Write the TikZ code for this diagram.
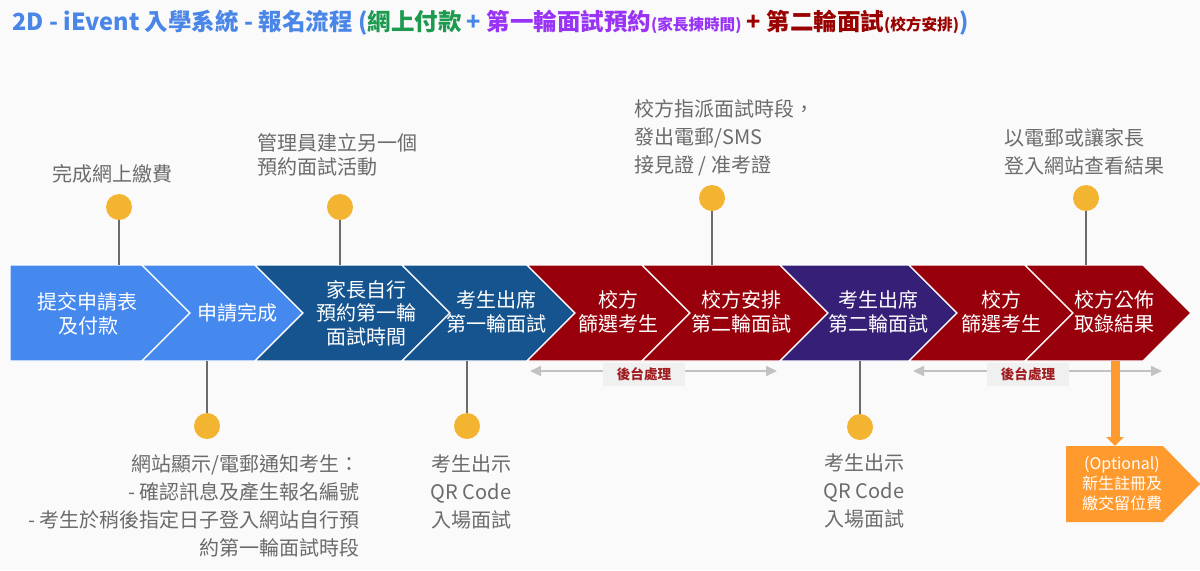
\documentclass[tikz,border=0pt]{standalone}
\usepackage{fontspec}
\setmainfont{Noto Sans CJK TC}
\usepackage{tikz}
\usetikzlibrary{arrows.meta,calc,positioning}
%Colours taken from the flow chart
\definecolor{bggray}{HTML}{FAFAFA}
\definecolor{steplight}{HTML}{4589EF}
\definecolor{stepdark}{HTML}{15548F}
\definecolor{stepred}{HTML}{98000B}
\definecolor{steppurple}{HTML}{361F77}
\definecolor{notegray}{HTML}{6B6B6B}
\definecolor{dotyellow}{HTML}{F3B431}
\definecolor{backgray}{HTML}{C2C2C2}
\definecolor{labelgray}{HTML}{F0F0F0}
\definecolor{labelred}{HTML}{A01E22}
\definecolor{optorange}{HTML}{FF9A2E}
\definecolor{titleblue}{HTML}{4A86E8}
\definecolor{titlegreen}{HTML}{1E9A50}
\definecolor{titlepurple}{HTML}{9933F5}
\definecolor{titlered}{HTML}{990000}
\newcommand\titlesmall{\fontsize{7.8}{9}\selectfont}
\tikzset{
%Define standard arrow tip
>={Triangle[length=5.5pt,width=5pt]},
%Define style for the chevrons and their texts
stepshape/.style={draw=white, line width=0.6pt},
steptext/.style={text=white, align=center, inner sep=0pt, font=\fontsize{10}{12}\selectfont},
%Define style for the notes above and below the chevrons
note/.style={text=notegray, inner sep=0pt, font=\fontsize{10}{14}\selectfont},
yellow dot/.style={circle, fill=dotyellow, minimum size=13pt, inner sep=0pt},
stem/.style={draw=notegray, line width=0.7pt},
%Back office arrows
back line/.style={<->, draw=backgray, line width=1pt},
back label/.style={fill=labelgray, text=labelred, minimum width=41pt, minimum height=11.5pt, inner sep=0pt, font=\bfseries\fontsize{6.8}{8}\selectfont},
opt arrow/.style={draw=optorange, line width=4.5pt, -{Triangle[length=4.5pt,width=8.5pt]}},
}

\begin{document}
\begin{tikzpicture}[x=0.5pt,y=-0.5pt]
    \useasboundingbox (0,0) rectangle (1200,570);
    \fill[bggray] (0,0) rectangle (1200,570);
    %Title
    \node[anchor=west, inner sep=0pt, font=\bfseries\fontsize{11.75}{14}\selectfont] (title) at (12,22.5)
    {\textcolor{titleblue}{2D - iEvent 入學系統 - 報名流程 (}\textcolor{titlegreen}{網上付款}\textcolor{titleblue}{\ + }\textcolor{titlepurple}{第一輪面試預約{\titlesmall(家長揀時間)}}\textcolor{titlered}{\ + 第二輪面試{\titlesmall(校方安排)}}\textcolor{titleblue}{)}};

    %Where the stems meet the chevrons
    %% top edge is at 265, bottom edge at 361
    \coordinate (s1) at (119,265);
    \coordinate (s2) at (207,361);
    \coordinate (s3) at (340,265);
    \coordinate (s4) at (467,361);
    \coordinate (s5) at (712,265);
    \coordinate (s6) at (860,361);
    \coordinate (s7) at (1086,265);
    \coordinate (s8) at (1115,361);

    %Back office arrows, under everything else
    \coordinate (b1s) at (530,371);
    \coordinate (b1e) at (777,371);
    \coordinate (b2s) at (913,371);
    \coordinate (b2e) at (1162,371);
    \draw[back line] (b1s) -- (b1e);
    \draw[back line] (b2s) -- (b2e);
    \node[back label] (back1) at (644,374) {後台處理};
    \node[back label] (back2) at (1028,374) {後台處理};

    %%%%%%%%%%%%%%%%%%%%%%
    %The chevrons
    %%%%%%%%%%%%%%%%%%%%%%
    \filldraw[stepshape, fill=steplight] (10,265) -- (142,265) -- (190,313) -- (142,361) -- (10,361) -- cycle;
    \filldraw[stepshape, fill=steplight] (142,265) -- (255,265) -- (303,313) -- (255,361) -- (142,361) -- (190,313) -- cycle;
    \filldraw[stepshape, fill=stepdark] (255,265) -- (402,265) -- (450,313) -- (402,361) -- (255,361) -- (303,313) -- cycle;
    \filldraw[stepshape, fill=stepdark] (402,265) -- (527,265) -- (575,313) -- (527,361) -- (402,361) -- (450,313) -- cycle;
    \filldraw[stepshape, fill=stepred] (527,265) -- (642,265) -- (690,313) -- (642,361) -- (527,361) -- (575,313) -- cycle;
    \filldraw[stepshape, fill=stepred] (642,265) -- (780,265) -- (828,313) -- (780,361) -- (642,361) -- (690,313) -- cycle;
    \filldraw[stepshape, fill=steppurple] (780,265) -- (909,265) -- (957,313) -- (909,361) -- (780,361) -- (828,313) -- cycle;
    \filldraw[stepshape, fill=stepred] (909,265) -- (1025,265) -- (1073,313) -- (1025,361) -- (909,361) -- (957,313) -- cycle;
    \filldraw[stepshape, fill=stepred] (1025,265) -- (1143,265) -- (1191,313) -- (1143,361) -- (1025,361) -- (1073,313) -- cycle;

    \node[steptext] (apply) at (88,314) {提交申請表\\及付款};
    \node[steptext] (done) at (237,313) {申請完成};
    \node[steptext, font=\fontsize{10}{11.8}\selectfont] (book) at (366,313) {家長自行\\預約第一輪\\面試時間};
    \node[steptext] (first) at (496,312) {考生出席\\第一輪面試};
    \node[steptext] (screenA) at (618,312) {校方\\篩選考生};
    \node[steptext] (arrange) at (741,312) {校方安排\\第二輪面試};
    \node[steptext] (second) at (878,312) {考生出席\\第二輪面試};
    \node[steptext] (screenB) at (1001,312) {校方\\篩選考生};
    \node[steptext] (result) at (1114,312) {校方公佈\\取錄結果};

    %%%%%%%%%%%%%%%%%%%%%%
    %Dots, stems and notes
    %%%%%%%%%%%%%%%%%%%%%%
    \node[yellow dot] (d1) at (119,207) {};
    \node[yellow dot] (d2) at (207,426) {};
    \node[yellow dot] (d3) at (340,207) {};
    \node[yellow dot] (d4) at (467,426) {};
    \node[yellow dot] (d5) at (712,198) {};
    \node[yellow dot] (d6) at (860,427) {};
    \node[yellow dot] (d7) at (1086,198) {};
    \draw[stem] (d1) -- (s1);
    \draw[stem] (d2) -- (s2);
    \draw[stem] (d3) -- (s3);
    \draw[stem] (d4) -- (s4);
    \draw[stem] (d5) -- (s5);
    \draw[stem] (d6) -- (s6);
    \draw[stem] (d7) -- (s7);

    \node[note] (n1) at (113,174) {完成網上繳費};
    \node[note, anchor=west, align=left, font=\fontsize{10}{12}\selectfont] (n3) at (257,155) {管理員建立另一個\\預約面試活動};
    \node[note, anchor=west, align=left] (n5) at (634,137.5) {校方指派面試時段，\\發出電郵/SMS\\接見證 / 准考證};
    \node[note, anchor=west, align=left] (n7) at (1004,152) {以電郵或讓家長\\登入網站查看結果};
    \node[note, anchor=east, align=right] (n2) at (360,506) {網站顯示/電郵通知考生：\\- 確認訊息及產生報名編號\\- 考生於稍後指定日子登入網站自行預\\約第一輪面試時段};
    \node[note, align=center] (n4) at (471,492) {考生出示\\QR Code\\入場面試};
    \node[note, align=center] (n6) at (864,491) {考生出示\\QR Code\\入場面試};

    %Optional step after the results
    \fill[optorange] (1066,446) -- (1163,446) -- (1200,484) -- (1163,522) -- (1066,522) -- cycle;
    \node[text=white, align=center, inner sep=0pt, font=\fontsize{8}{10}\selectfont] (opt) at (1122,484) {(Optional)\\新生註冊及\\繳交留位費};
    \coordinate (optin) at (1115,446);
    \draw[opt arrow] (s8) -- (optin);
\end{tikzpicture}
\end{document}
